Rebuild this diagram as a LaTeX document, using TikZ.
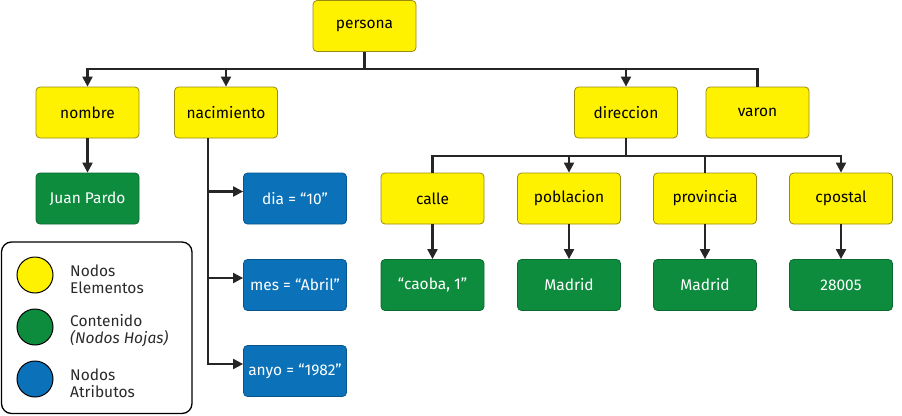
\documentclass[tikz,border=0pt]{standalone}
\usepackage{fontspec}
\setmainfont{Fira Sans}
\usetikzlibrary{arrows.meta}
\definecolor{amarillo}{HTML}{FFF200}
\definecolor{borde}{HTML}{9A8A10}
\definecolor{verde}{HTML}{0E8C3E}
\definecolor{azul}{HTML}{0B72BA}
\definecolor{gris}{HTML}{2A2A2A}
\tikzset{
  elem/.style={draw=borde, fill=amarillo, rounded corners=4pt, line width=0.8pt,
    minimum width=103pt, minimum height=51pt, inner sep=1pt,
    font=\fontsize{15.5}{17}\selectfont},
  hoja/.style={elem, fill=verde, draw=verde!75!black, text=white},
  attr/.style={elem, fill=azul, draw=azul!75!black, text=white},
  linea/.style={line width=2.1pt, black!85},
  flecha/.style={linea, -{Triangle[width=10pt,length=10pt]}},
  punto/.style={circle, draw, line width=1pt, minimum size=36pt, inner sep=0pt},
  leyenda/.style={anchor=west, align=left, text=gris, inner sep=0pt,
    font=\fontsize{15.5}{17}\selectfont}
}
\begin{document}
\begin{tikzpicture}[x=1pt, y=-1pt]
  \useasboundingbox (0,0) rectangle (902,415);
  % Elementos
  \node[elem] (persona) at (364.5,26) {persona};
  \foreach \n/\x in {nombre/87.5, nacimiento/226, direccion/626, varon/757.5}
    \node[elem] (\n) at (\x,112.5) {\n};
  \foreach \n/\x in {calle/432.5, poblacion/569, provincia/705, cpostal/841}
    \node[elem] (\n) at (\x,198.5) {\n};
  % Hojas
  \node[hoja] (juan) at (87.5,198.5) {Juan Pardo};
  \foreach \n/\x/\t in {hcalle/432.5/{“caoba, 1”}, hpoblacion/569/Madrid,
      hprovincia/705/Madrid, hcpostal/841/28005}
    \node[hoja] (\n) at (\x,285) {\t};
  % Atributos
  \foreach \n/\y/\t in {dia/198.5/{dia = “10”}, mes/285/{mes = “Abril”},
      anyo/371/{anyo = “1982”}}
    \node[attr] (\n) at (295,\y) {\t};
  % Conectores
  \coordinate (barra) at (364.5,69);
  \coordinate (barradir) at (626,156);
  \coordinate (tronco) at (208,138);
  \draw[linea] (persona.south) -- (barra);
  \foreach \n in {nombre, nacimiento, direccion}
    \draw[flecha] (barra) -| (\n.north);
  \draw[linea] (barra) -| (varon.north);
  \draw[flecha] (nombre.south) -- (juan.north);
  \draw[linea] (direccion.south) -- (barradir);
  \foreach \n in {poblacion, cpostal}
    \draw[flecha] (barradir) -| (\n.north);
  \foreach \n in {calle, provincia}
    \draw[linea] (barradir) -| (\n.north);
  \foreach \n in {calle, poblacion, provincia, cpostal}
    \draw[flecha] (\n.south) -- (h\n.north);
  \foreach \n in {dia, mes, anyo}
    \draw[flecha] (tronco) |- ([yshift=7pt]\n.west);
  % Leyenda
  \draw[line width=1.3pt, rounded corners=10pt] (1.5,242) rectangle (192,413.5);
  \node[punto, fill=amarillo] (pelem) at (35,275) {};
  \node[punto, fill=verde] (phoja) at (35,327) {};
  \node[punto, fill=azul] (pattr) at (35,379) {};
  \node[leyenda] (telem) at (70,279) {Nodos\\Elementos};
  \node[leyenda] (thoja) at (70,331) {Contenido\\\textit{(Nodos Hojas)}};
  \node[leyenda] (tattr) at (70,383) {Nodos\\Atributos};
\end{tikzpicture}
\end{document}
